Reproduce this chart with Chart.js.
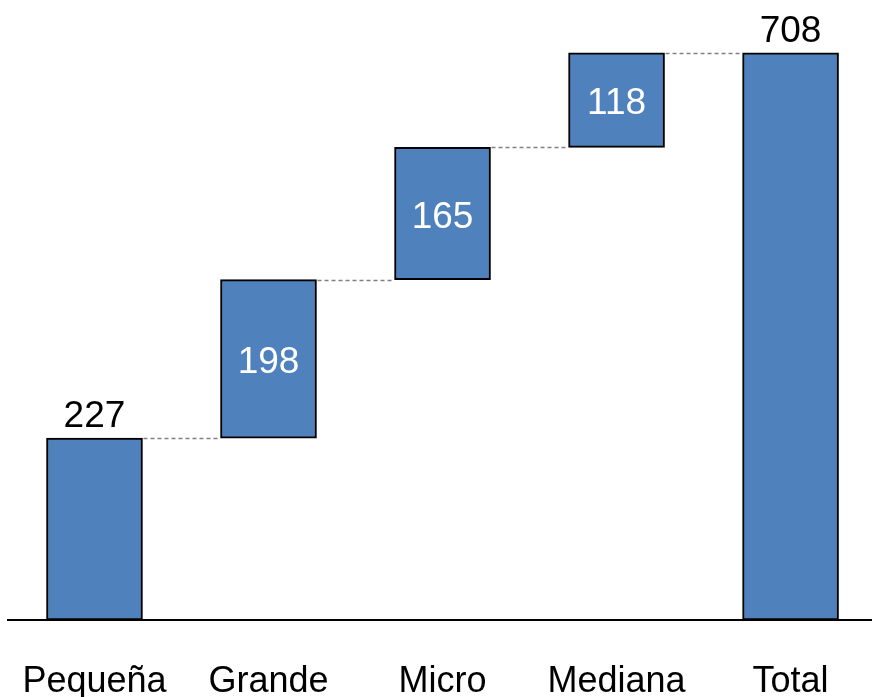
<!DOCTYPE html>
<html>
<head>
<meta charset="utf-8">
<script src="https://cdn.jsdelivr.net/npm/chart.js@4/dist/chart.umd.min.js"></script>
<style>
  html, body { margin: 0; padding: 0; background: #ffffff; }
  #wrap { width: 872px; height: 697px; position: relative; }
</style>
</head>
<body>
<div id="wrap"><canvas id="c"></canvas></div>
<script>
const categories = ['Pequeña', 'Grande', 'Micro', 'Mediana', 'Total'];
const values = [227, 198, 165, 118, 708];
const isTotal = [false, false, false, false, true];
const yMax = 774;

// floating ranges built from the values
const ranges = [];
let running = 0;
values.forEach((v, i) => {
  if (isTotal[i]) { ranges.push([0, v]); }
  else { ranges.push([running, running + v]); running += v; }
});
const barData = ranges.map((r, i) => ({ x: i, y: r }));

const FONT = "'Liberation Sans', Arial, Helvetica, sans-serif";

const decorPlugin = {
  id: 'decor',
  afterDatasetsDraw(chart) {
    const ctx = chart.ctx;
    const meta = chart.getDatasetMeta(0);
    const ys = chart.scales.y;
    // connectors
    ctx.save();
    ctx.strokeStyle = '#808080';
    ctx.lineWidth = 1.5;
    ctx.setLineDash([4, 3]);
    for (let i = 0; i < meta.data.length - 1; i++) {
      const a = meta.data[i], b = meta.data[i + 1];
      const level = ranges[i][1];
      const y = Math.round(ys.getPixelForValue(level)) + 0.5;
      ctx.beginPath();
      ctx.moveTo(a.x + a.width / 2 + 1, y);
      ctx.lineTo(b.x - b.width / 2 - 1, y);
      ctx.stroke();
    }
    ctx.restore();
    // value labels
    ctx.save();
    ctx.font = '37px ' + FONT;
    ctx.textAlign = 'center';
    meta.data.forEach((bar, i) => {
      const top = ys.getPixelForValue(ranges[i][1]);
      const bottom = ys.getPixelForValue(ranges[i][0]);
      if (i === 0 || isTotal[i]) {
        ctx.fillStyle = '#000000';
        ctx.textBaseline = 'alphabetic';
        ctx.fillText(String(values[i]), bar.x, top - 11);
      } else {
        ctx.fillStyle = '#ffffff';
        ctx.textBaseline = 'middle';
        ctx.fillText(String(values[i]), bar.x, (top + bottom) / 2 + 4);
      }
    });
    ctx.restore();
  }
};

new Chart(document.getElementById('c'), {
  type: 'bar',
  data: {
    datasets: [{
      data: barData,
      backgroundColor: '#4F81BD',
      borderColor: '#000000',
      borderWidth: 2,
      borderSkipped: false,
      barThickness: 96
    }]
  },
  options: {
    responsive: true,
    maintainAspectRatio: false,
    animation: false,
    layout: { padding: { left: 8, right: 0, top: 0, bottom: 0 } },
    plugins: { legend: { display: false }, tooltip: { enabled: false } },
    scales: {
      x: {
        type: 'linear',
        offset: false,
        min: -0.497,
        max: 4.468,
        grid: { display: false, drawTicks: false },
        border: { display: true, color: '#000000', width: 2 },
        afterBuildTicks: (axis) => { axis.ticks = categories.map((_, i) => ({ value: i })); },
        afterFit: (axis) => { axis.height = 77; axis.paddingLeft = 0; axis.paddingRight = 0; },
        ticks: {
          autoSkip: false,
          maxRotation: 0,
          padding: 44,
          color: '#000000',
          font: { family: FONT, size: 36, lineHeight: 1 },
          callback: (v) => categories[v] ?? ''
        }
      },
      y: {
        display: false,
        min: 0,
        max: yMax
      }
    }
  },
  plugins: [decorPlugin]
});
</script>
</body>
</html>
